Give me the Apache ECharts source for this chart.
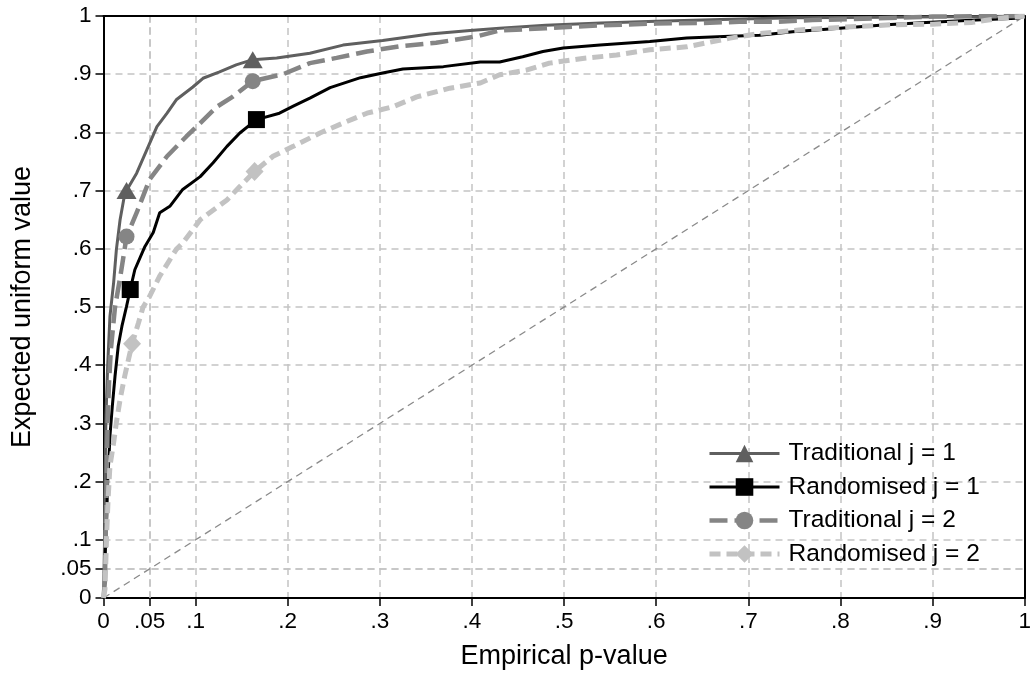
<!DOCTYPE html>
<html>
<head>
<meta charset="utf-8">
<script src="https://cdn.jsdelivr.net/npm/echarts@6/dist/echarts.min.js"></script>
<style>
html, body { margin: 0; padding: 0; background: #fff; }
#chart { width: 1034px; height: 675px; }
</style>
</head>
<body>
<div id="chart"></div>
<script>
// ---------- data ----------
var seriesNames = ['Traditional j = 1', 'Randomised j = 1', 'Traditional j = 2', 'Randomised j = 2'];

var xTicks = [0, 0.05, 0.1, 0.2, 0.3, 0.4, 0.5, 0.6, 0.7, 0.8, 0.9, 1];
var xTickLabels = ['0', '.05', '.1', '.2', '.3', '.4', '.5', '.6', '.7', '.8', '.9', '1'];
var yTicks = [0, 0.05, 0.1, 0.2, 0.3, 0.4, 0.5, 0.6, 0.7, 0.8, 0.9, 1];
var yTickLabels = ['0', '.05', '.1', '.2', '.3', '.4', '.5', '.6', '.7', '.8', '.9', '1'];
// the extra grid line that is not on the 0.1 step
var extraGrid = [0.05];

// Traditional j = 1
var trad1X = [0, 0.001, 0.0016, 0.0027, 0.0045, 0.007, 0.011, 0.014, 0.018, 0.022, 0.025, 0.036, 0.047, 0.058, 0.069, 0.079, 0.097, 0.108, 0.126, 0.144, 0.162, 0.188, 0.224, 0.26, 0.303, 0.354, 0.398, 0.43, 0.48, 0.54, 0.6, 0.67, 0.75, 0.85, 0.95, 1];
var trad1Y = [0, 0.084, 0.2, 0.313, 0.398, 0.484, 0.542, 0.599, 0.65, 0.685, 0.70, 0.73, 0.77, 0.81, 0.833, 0.856, 0.878, 0.893, 0.904, 0.916, 0.925, 0.928, 0.936, 0.95, 0.958, 0.969, 0.975, 0.979, 0.984, 0.988, 0.991, 0.994, 0.997, 0.998, 0.999, 1];
var trad1Marks = [10, 20];

// Randomised j = 1
var rand1X = [0, 0.001, 0.0016, 0.0024, 0.0035, 0.0045, 0.006, 0.007, 0.0096, 0.0125, 0.016, 0.02, 0.025, 0.029, 0.034, 0.045, 0.054, 0.061, 0.072, 0.086, 0.105, 0.119, 0.134, 0.148, 0.166, 0.191, 0.206, 0.224, 0.246, 0.279, 0.303, 0.325, 0.369, 0.409, 0.43, 0.455, 0.477, 0.499, 0.539, 0.593, 0.633, 0.68, 0.712, 0.748, 0.799, 0.85, 0.893, 0.947, 0.991, 1];
var rand1Y = [0, 0.01, 0.055, 0.101, 0.141, 0.199, 0.244, 0.278, 0.33, 0.381, 0.433, 0.467, 0.501, 0.53, 0.564, 0.604, 0.628, 0.662, 0.673, 0.702, 0.724, 0.748, 0.776, 0.799, 0.822, 0.833, 0.845, 0.859, 0.877, 0.894, 0.902, 0.909, 0.913, 0.921, 0.921, 0.93, 0.939, 0.945, 0.95, 0.956, 0.962, 0.965, 0.967, 0.973, 0.979, 0.985, 0.989, 0.993, 0.996, 1];
var rand1Marks = [13, 24];

// Traditional j = 2
var trad2X = [0, 0.0016, 0.0024, 0.0035, 0.0045, 0.006, 0.008, 0.0125, 0.018, 0.022, 0.025, 0.036, 0.05, 0.069, 0.09, 0.105, 0.123, 0.14, 0.162, 0.195, 0.224, 0.253, 0.286, 0.322, 0.361, 0.405, 0.43, 0.48, 0.54, 0.6, 0.65, 0.69, 0.73, 0.77, 0.84, 0.9, 1];
var trad2Y = [0, 0.03, 0.113, 0.199, 0.302, 0.37, 0.427, 0.5, 0.55, 0.59, 0.621, 0.662, 0.719, 0.759, 0.793, 0.816, 0.844, 0.861, 0.888, 0.90, 0.919, 0.928, 0.939, 0.948, 0.954, 0.965, 0.975, 0.979, 0.984, 0.987, 0.988, 0.99, 0.99, 0.993, 0.996, 0.999, 1];
var trad2Marks = [10, 18];

// Randomised j = 2
var rand2X = [0, 0.0016, 0.0024, 0.0035, 0.005, 0.007, 0.011, 0.014, 0.018, 0.023, 0.031, 0.038, 0.043, 0.049, 0.061, 0.079, 0.086, 0.105, 0.134, 0.148, 0.164, 0.184, 0.206, 0.235, 0.26, 0.286, 0.314, 0.34, 0.376, 0.409, 0.43, 0.459, 0.484, 0.52, 0.557, 0.593, 0.633, 0.68, 0.712, 0.755, 0.806, 0.856, 0.9, 0.943, 0.972, 1];
var rand2Y = [0, 0.015, 0.055, 0.113, 0.17, 0.227, 0.267, 0.302, 0.341, 0.381, 0.437, 0.473, 0.5, 0.515, 0.553, 0.599, 0.61, 0.65, 0.684, 0.707, 0.733, 0.759, 0.776, 0.799, 0.816, 0.833, 0.844, 0.861, 0.876, 0.885, 0.899, 0.907, 0.919, 0.927, 0.933, 0.942, 0.947, 0.962, 0.970, 0.976, 0.981, 0.985, 0.986, 0.989, 0.996, 1];
var rand2Marks = [10, 20];

// 45 degree reference line
var diagX = [0, 1];
var diagY = [0, 1];

// ---------- helpers ----------
var FONT = '"Liberation Sans", Arial, Helvetica, sans-serif';
var GRID_LINE = { color: '#c4c4c4', width: 1.5, type: [7, 5] };

function pairs(xs, ys, marks) {
  return xs.map(function (x, i) {
    var item = { value: [x, ys[i]] };
    if (!marks || marks.indexOf(i) < 0) item.symbol = 'none';
    return item;
  });
}

function tickLabel(ticks, labels) {
  return function (v) {
    for (var i = 0; i < ticks.length; i++) {
      if (Math.abs(ticks[i] - v) < 1e-9) return labels[i];
    }
    return '';
  };
}

function curve(name, xs, ys, marks, color, width, dash, symbol, size) {
  return {
    name: name,
    type: 'line',
    data: pairs(xs, ys, marks),
    showSymbol: true,
    symbol: symbol,
    symbolSize: size,
    lineStyle: { color: color, width: width, type: dash },
    itemStyle: { color: color, borderWidth: 0 },
    emphasis: { disabled: true }
  };
}

function mainAxis(name, gap, ticks, labels) {
  return {
    type: 'value', min: 0, max: 1, interval: 0.1,
    name: name, nameLocation: 'middle', nameGap: gap,
    nameTextStyle: { fontSize: 27, color: '#000', fontFamily: FONT },
    axisLine: { onZero: false, lineStyle: { color: '#000', width: 2 } },
    axisTick: { show: true, length: 8, customValues: ticks, lineStyle: { color: '#000', width: 1.5 } },
    axisLabel: { customValues: ticks, formatter: tickLabel(ticks, labels), fontSize: 22.5, color: '#000', fontFamily: FONT, margin: 12 },
    splitLine: { show: true, lineStyle: GRID_LINE }
  };
}

function frameAxis(position) {
  return {
    type: 'value', min: 0, max: 1, position: position, z: 3,
    axisLine: { show: true, onZero: false, lineStyle: { color: '#000', width: 2 } },
    axisTick: { show: false }, axisLabel: { show: false }, splitLine: { show: false }
  };
}

var chart = echarts.init(document.getElementById('chart'), null, { renderer: 'canvas' });

var option = {
  animation: false,
  backgroundColor: '#fff',
  grid: { left: 103.5, right: 8.5, top: 16, bottom: 76 },
  legend: {
    data: seriesNames,
    orient: 'vertical',
    left: 702, top: 436,
    itemWidth: 70, itemHeight: 22, itemGap: 8.5,
    lineStyle: { width: 'inherit' },
    textStyle: { fontSize: 24.5, color: '#000', fontFamily: FONT, padding: [0, 0, 0, 4] }
  },
  xAxis: [mainAxis('Empirical p-value', 45, xTicks, xTickLabels), frameAxis('top')],
  yAxis: [mainAxis('Expected uniform value', 67, yTicks, yTickLabels), frameAxis('right')],
  series: [
    {
      name: 'diagonal', type: 'line', silent: true,
      data: pairs(diagX, diagY, null),
      symbol: 'none',
      lineStyle: { color: '#8a8a8a', width: 1.3, type: [7, 5] },
      markLine: {
        silent: true, symbol: 'none', z: 1,
        label: { show: false },
        lineStyle: GRID_LINE,
        data: extraGrid.map(function (v) { return { xAxis: v }; })
          .concat(extraGrid.map(function (v) { return { yAxis: v }; }))
      }
    },
    curve(seriesNames[0], trad1X, trad1Y, trad1Marks, '#5f5f5f', 3, 'solid', 'triangle', [20, 17]),
    curve(seriesNames[1], rand1X, rand1Y, rand1Marks, '#000000', 3, 'solid', 'rect', 17),
    curve(seriesNames[2], trad2X, trad2Y, trad2Marks, '#858585', 4.5, [18, 7], 'circle', 16),
    curve(seriesNames[3], rand2X, rand2Y, rand2Marks, '#c2c2c2', 5, [11, 6], 'diamond', [18, 19])
  ]
};

chart.setOption(option);
</script>
</body>
</html>
